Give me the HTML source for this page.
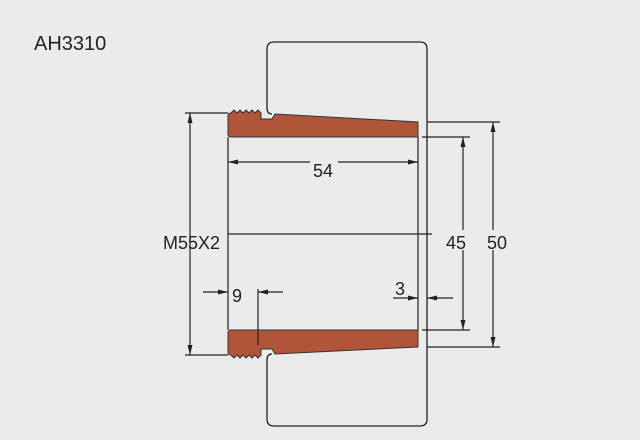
<!DOCTYPE html>
<html><head><style>body{margin:0;background:#ebebeb}svg{display:block}</style></head><body>
<svg width="640" height="440" viewBox="0 0 640 440" xmlns="http://www.w3.org/2000/svg" font-family="Liberation Sans, sans-serif">
<defs><marker id="a" markerWidth="10" markerHeight="6" refX="10" refY="3" orient="auto-start-reverse" markerUnits="userSpaceOnUse"><path d="M0,0.5L10,3L0,5.5z" fill="#222"/></marker></defs>
<rect width="640" height="440" fill="#ebebeb"/>
<text x="34" y="50" font-size="20" fill="#222">AH3310</text>
<g fill="none" stroke="#222" stroke-width="1.3">
<path d="M267,108 V49 Q267,42 274,42 H420 Q427,42 427,49 V347"/>
<path d="M267,360 V419 Q267,426 274,426 H420 Q427,426 427,419 V347"/>
<path d="M272,114 Q267,114 267,108"/>
<path d="M272,354 Q267,354 267,360"/>
</g>
<path d="M231,113 l3,-3 l3,3 l3,-3 l3,3 l3,-3 l3,3 l3,-3 l3,3 l3,-3 l3,3 V119 H272 L275,114 L418,122 V137 H231 Q228,137 228,134 V116 Q228,113 231,113Z" fill="#b0553a" stroke="#333" stroke-width="1"/>
<path d="M231,355 l3,3 l3,-3 l3,3 l3,-3 l3,3 l3,-3 l3,3 l3,-3 l3,3 l3,-3 V349 H272 L275,354 L418,347 V330 H231 Q228,330 228,333 V352 Q228,355 231,355Z" fill="#b0553a" stroke="#333" stroke-width="1"/>
<g stroke="#222" stroke-width="1.2" fill="none">
<line x1="228" y1="137" x2="228" y2="330"/><line x1="418" y1="137" x2="418" y2="330"/>
<line x1="228" y1="234" x2="432" y2="234"/>
<line x1="185" y1="113" x2="228" y2="113"/><line x1="185" y1="355" x2="228" y2="355"/>
<line x1="190" y1="113" x2="190" y2="355" marker-start="url(#a)" marker-end="url(#a)"/>
<line x1="228" y1="162" x2="418" y2="162" marker-start="url(#a)" marker-end="url(#a)"/>
<line x1="422" y1="137" x2="470" y2="137"/><line x1="422" y1="330" x2="470" y2="330"/>
<line x1="463" y1="137" x2="463" y2="330" marker-start="url(#a)" marker-end="url(#a)"/>
<line x1="427" y1="122" x2="500" y2="122"/><line x1="427" y1="347" x2="500" y2="347"/>
<line x1="493" y1="122" x2="493" y2="347" marker-start="url(#a)" marker-end="url(#a)"/>
<line x1="203" y1="292" x2="228" y2="292" marker-end="url(#a)"/>
<line x1="283" y1="292" x2="258" y2="292" marker-end="url(#a)"/>
<line x1="258" y1="289" x2="258" y2="345"/>
<line x1="393" y1="298" x2="418" y2="298" marker-end="url(#a)"/>
<line x1="453" y1="298" x2="427" y2="298" marker-end="url(#a)"/>
</g>
<g font-size="18" fill="#222">
<rect x="310" y="155" width="28" height="18" fill="#ebebeb"/>
<text x="323" y="177" text-anchor="middle">54</text>
<text x="163" y="249">M55X2</text>
<rect x="443" y="230" width="28" height="20" fill="#ebebeb"/>
<rect x="482" y="230" width="28" height="20" fill="#ebebeb"/>
<text x="456" y="249" text-anchor="middle">45</text>
<text x="497" y="249" text-anchor="middle">50</text>
<text x="237" y="302" text-anchor="middle">9</text>
<text x="400" y="295" text-anchor="middle">3</text>
</g>
</svg>
</body></html>
